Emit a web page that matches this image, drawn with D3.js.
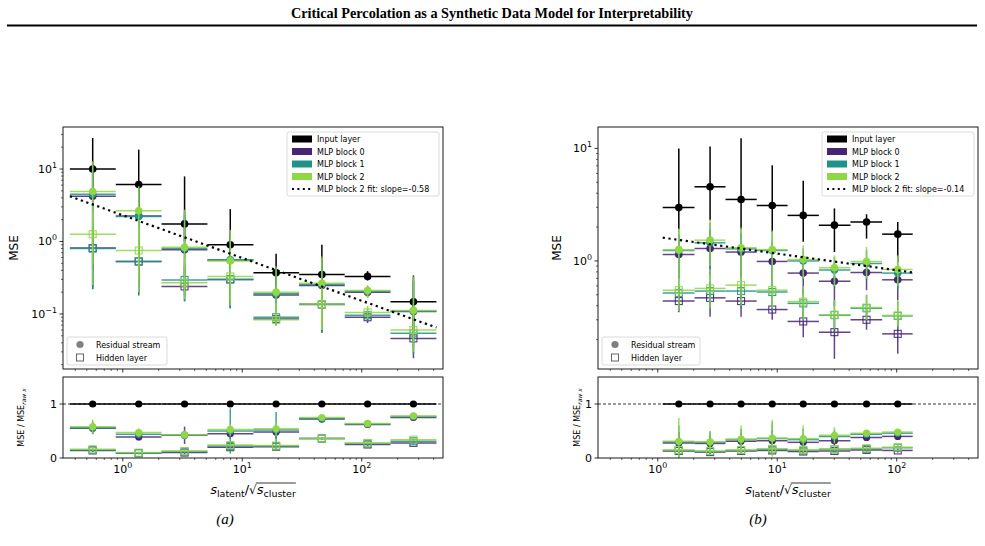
<!DOCTYPE html>
<html><head><meta charset="utf-8">
<script src="https://cdn.jsdelivr.net/npm/d3@7"></script>
<style>body{margin:0;background:#fff} svg{display:block} text{font-family:"DejaVu Sans",sans-serif}</style>
</head><body><svg id="c" width="985" height="546"></svg>
<script>
// ---------------- DATA ----------------
const title = "Critical Percolation as a Synthetic Data Model for Interpretability";
const seriesNames = ["Input layer", "MLP block 0", "MLP block 1", "MLP block 2"];
const seriesColors = ["#000000", "#482475", "#21918c", "#8fd744"];
const markerNames = ["Residual stream", "Hidden layer"];
const slopeLabels = ["-0.58", "-0.14"];
const captions = ["(a)", "(b)"];
const yTicksTopA = [0.1, 1, 10];
const yTicksTopB = [1, 10];
const yTicksRatio = [0, 1];
const xTicks = [1, 10, 100];

// Panel (a)
const xA = [0.56, 1.36, 3.29, 7.94, 19.2, 46.4, 112, 271];
const edgesA = [0.361, 0.874, 2.11, 5.11, 12.4, 29.9, 72.1, 174, 422];
const inputA = [10.0, 6.1, 1.75, 0.90, 0.37, 0.35, 0.33, 0.147];
const inputAHi = [26.8, 18.5, 7.9, 2.8, 0.68, 0.90, 0.39, 0.34];
const inputALo = [4.0, 3.0, 1.0, 0.5, 0.25, 0.2, 0.29, 0.06];
const b0ResA = [4.2, 2.25, 0.77, 0.55, 0.183, 0.247, 0.20, 0.108];
const b1ResA = [4.5, 2.22, 0.80, 0.56, 0.19, 0.255, 0.205, 0.11];
const b2ResA = [4.9, 2.66, 0.83, 0.54, 0.20, 0.265, 0.21, 0.112];
const b0ResAHi = [10, 5.2, 2.3, 1.2, 0.40, 0.55, 0.24, 0.28];
const b0ResALo = [0.4, 0.3, 0.2, 0.14, 0.08, 0.06, 0.17, 0.04];
const b1ResAHi = [11, 5.5, 2.5, 1.3, 0.42, 0.58, 0.24, 0.30];
const b1ResALo = [0.22, 0.25, 0.18, 0.12, 0.075, 0.055, 0.17, 0.035];
const b2ResAHi = [12.8, 5.8, 2.74, 1.45, 0.45, 0.62, 0.25, 0.33];
const b2ResALo = [0.5, 0.3, 0.2, 0.15, 0.08, 0.06, 0.17, 0.04];
const b0HidA = [0.81, 0.53, 0.24, 0.30, 0.085, 0.135, 0.09, 0.046];
const b1HidA = [0.80, 0.53, 0.295, 0.30, 0.09, 0.137, 0.096, 0.054];
const b2HidA = [1.26, 0.75, 0.27, 0.33, 0.083, 0.137, 0.105, 0.06];
const b0HidAHi = [1.6, 1.0, 0.45, 0.5, 0.13, 0.24, 0.11, 0.09];
const b0HidALo = [0.22, 0.18, 0.15, 0.12, 0.07, 0.055, 0.075, 0.0245];
const b1HidAHi = [1.8, 1.1, 0.5, 0.55, 0.14, 0.24, 0.12, 0.10];
const b1HidALo = [0.24, 0.19, 0.15, 0.12, 0.07, 0.058, 0.08, 0.028];
const b2HidAHi = [2.5, 1.5, 0.6, 0.6, 0.14, 0.25, 0.13, 0.12];
const b2HidALo = [0.25, 0.2, 0.16, 0.13, 0.07, 0.06, 0.085, 0.03];
const fitAX = [0.361, 422];
const fitAY = [4.2, 0.065];
const ratioInputA = [1, 1, 1, 1, 1, 1, 1, 1];
const r0ResA = [0.55, 0.39, 0.42, 0.45, 0.48, 0.72, 0.62, 0.75];
const r1ResA = [0.56, 0.44, 0.43, 0.50, 0.52, 0.73, 0.63, 0.77];
const r2ResA = [0.58, 0.47, 0.43, 0.53, 0.54, 0.75, 0.64, 0.78];
const r0ResAErr = [0.10, 0.06, 0.16, 0.10, 0.12, 0.03, 0.03, 0.03];
const r1ResAErr = [0.12, 0.07, 0.07, 0.42, 0.33, 0.03, 0.03, 0.04];
const r2ResAErr = [0.13, 0.08, 0.08, 0.12, 0.14, 0.03, 0.03, 0.04];
const r0HidA = [0.14, 0.09, 0.10, 0.20, 0.21, 0.36, 0.25, 0.28];
const r1HidA = [0.15, 0.09, 0.12, 0.22, 0.22, 0.36, 0.27, 0.31];
const r2HidA = [0.16, 0.10, 0.13, 0.24, 0.23, 0.36, 0.28, 0.34];
const rHidAErr = [0.03, 0.02, 0.03, 0.05, 0.04, 0.02, 0.03, 0.03];

// Panel (b)
const xB = [1.5, 2.74, 4.98, 9.08, 16.5, 30.1, 55.9, 102];
const edgesB = [1.10, 2.03, 3.69, 6.73, 12.2, 22.3, 41.0, 75.5, 136];
const inputB = [2.98, 4.56, 3.52, 3.11, 2.54, 2.08, 2.22, 1.73];
const inputBHi = [10.0, 10.4, 12.3, 7.1, 5.15, 2.93, 2.6, 2.22];
const inputBLo = [1.9, 2.3, 1.9, 1.8, 1.48, 1.2, 1.58, 0.98];
const b0ResB = [1.14, 1.29, 1.20, 0.99, 0.78, 0.66, 0.79, 0.68];
const b1ResB = [1.24, 1.45, 1.28, 1.24, 1.00, 0.83, 0.95, 0.78];
const b2ResB = [1.26, 1.53, 1.31, 1.26, 1.03, 0.87, 0.99, 0.84];
const b0ResBHi = [1.7, 1.9, 1.75, 1.5, 1.1, 0.95, 1.0, 0.9];
const b0ResBLo = [0.7, 0.75, 0.72, 0.6, 0.5, 0.4, 0.55, 0.45];
const b1ResBHi = [1.9, 2.2, 1.9, 1.8, 1.3, 1.08, 1.25, 1.05];
const b1ResBLo = [0.78, 0.85, 0.82, 0.78, 0.68, 0.58, 0.68, 0.56];
const b2ResBHi = [1.94, 2.33, 1.98, 1.86, 1.38, 1.12, 1.33, 1.12];
const b2ResBLo = [0.8, 0.9, 0.85, 0.8, 0.7, 0.6, 0.7, 0.6];
const b0HidB = [0.44, 0.47, 0.44, 0.37, 0.29, 0.233, 0.30, 0.225];
const b1HidB = [0.52, 0.54, 0.54, 0.53, 0.42, 0.33, 0.38, 0.325];
const b2HidB = [0.55, 0.57, 0.61, 0.55, 0.435, 0.333, 0.385, 0.328];
const b0HidBHi = [0.6, 0.65, 0.6, 0.5, 0.4, 0.33, 0.38, 0.32];
const b0HidBLo = [0.35, 0.32, 0.32, 0.3, 0.21, 0.135, 0.245, 0.15];
const b1HidBHi = [0.78, 0.8, 0.8, 0.78, 0.58, 0.44, 0.5, 0.44];
const b1HidBLo = [0.36, 0.38, 0.38, 0.36, 0.3, 0.24, 0.3, 0.25];
const b2HidBHi = [0.8, 0.85, 0.85, 0.8, 0.6, 0.45, 0.5, 0.45];
const b2HidBLo = [0.36, 0.38, 0.4, 0.38, 0.3, 0.25, 0.3, 0.26];
const fitBX = [1.10, 136];
const fitBY = [1.61, 0.79];
const ratioInputB = [1, 1, 1, 1, 1, 1, 1, 1];
const r0ResB = [0.28, 0.27, 0.31, 0.32, 0.29, 0.32, 0.38, 0.40];
const r1ResB = [0.30, 0.29, 0.34, 0.36, 0.34, 0.40, 0.44, 0.46];
const r2ResB = [0.31, 0.30, 0.35, 0.37, 0.36, 0.42, 0.46, 0.48];
const r0ResBErr = [0.20, 0.15, 0.15, 0.20, 0.15, 0.10, 0.05, 0.04];
const r1ResBErr = [0.30, 0.20, 0.20, 0.30, 0.20, 0.12, 0.06, 0.04];
const r2ResBErr = [0.43, 0.20, 0.25, 0.34, 0.24, 0.15, 0.06, 0.04];
const r0HidB = [0.13, 0.11, 0.13, 0.14, 0.12, 0.13, 0.15, 0.14];
const r1HidB = [0.14, 0.12, 0.14, 0.16, 0.14, 0.16, 0.17, 0.19];
const r2HidB = [0.15, 0.13, 0.15, 0.17, 0.15, 0.165, 0.18, 0.20];
const rHidBErr = [0.05, 0.04, 0.05, 0.05, 0.05, 0.04, 0.04, 0.04];

// axis limits
const xLim = [0.316, 479];
const yLimTopA = [0.0174, 38.0];
const yLimTopB = [0.1096, 15.5];
const yLimRatio = [0, 1.5];

// ---------------- BUILD ----------------
const panels = [
  { left: 63, x: xA, edges: edgesA, yLim: yLimTopA, yTicks: yTicksTopA,
    input: [inputA, inputALo, inputAHi],
    res: [[b0ResA, b0ResALo, b0ResAHi], [b1ResA, b1ResALo, b1ResAHi], [b2ResA, b2ResALo, b2ResAHi]],
    hid: [[b0HidA, b0HidALo, b0HidAHi], [b1HidA, b1HidALo, b1HidAHi], [b2HidA, b2HidALo, b2HidAHi]],
    fit: [fitAX, fitAY], slope: slopeLabels[0], caption: captions[0],
    rInput: ratioInputA,
    rRes: [[r0ResA, r0ResAErr], [r1ResA, r1ResAErr], [r2ResA, r2ResAErr]],
    rHid: [[r0HidA, rHidAErr], [r1HidA, rHidAErr], [r2HidA, rHidAErr]],
    mseX: 14, ratioLabX: 21, captionX: 225 },
  { left: 598, x: xB, edges: edgesB, yLim: yLimTopB, yTicks: yTicksTopB,
    input: [inputB, inputBLo, inputBHi],
    res: [[b0ResB, b0ResBLo, b0ResBHi], [b1ResB, b1ResBLo, b1ResBHi], [b2ResB, b2ResBLo, b2ResBHi]],
    hid: [[b0HidB, b0HidBLo, b0HidBHi], [b1HidB, b1HidBLo, b1HidBHi], [b2HidB, b2HidBLo, b2HidBHi]],
    fit: [fitBX, fitBY], slope: slopeLabels[1], caption: captions[1],
    rInput: ratioInputB,
    rRes: [[r0ResB, r0ResBErr], [r1ResB, r1ResBErr], [r2ResB, r2ResBErr]],
    rHid: [[r0HidB, rHidBErr], [r1HidB, rHidBErr], [r2HidB, rHidBErr]],
    mseX: 557, ratioLabX: 577, captionX: 758 }
];

const W = 380, topT = 127, topB = 369, ratT = 377, ratB = 458;
const svg = d3.select("#c");

// title + rule
svg.append("text").attr("x", 492).attr("y", 18).attr("text-anchor", "middle")
  .style("font-family", "'Liberation Serif','Times New Roman',serif").style("font-weight", "bold")
  .style("font-size", "14.5px").attr("textLength", 402).attr("lengthAdjust", "spacingAndGlyphs").text(title);
svg.append("line").attr("x1", 7).attr("x2", 977).attr("y1", 25.5).attr("y2", 25.5)
  .attr("stroke", "#000").attr("stroke-width", 1.8);

function sup(t) { return t < 0 ? "\u2212" + Math.abs(t) : String(t); }

function logTicks(g, scale, orient, len, y0, x0, labels, labelSize) {
  const ticks = scale.ticks();
  const [d0, d1] = scale.domain();
  ticks.forEach(v => {
    if (v < d0 || v > d1) return;
    const e = Math.log10(v);
    const major = Math.abs(e - Math.round(e)) < 1e-9;
    const L = major ? 3.5 : 2;
    if (orient === "x") {
      const px = scale(v);
      g.append("line").attr("x1", px).attr("x2", px).attr("y1", y0).attr("y2", y0 + L)
        .attr("stroke", "#000").attr("stroke-width", major ? 0.8 : 0.6);
    } else {
      const py = scale(v);
      g.append("line").attr("x1", x0).attr("x2", x0 - L).attr("y1", py).attr("y2", py)
        .attr("stroke", "#000").attr("stroke-width", major ? 0.8 : 0.6);
    }
  });
  if (!labels) return;
  labels.forEach(v => {
    const e = Math.round(Math.log10(v));
    let t;
    if (orient === "x") {
      t = g.append("text").attr("x", scale(v)).attr("y", y0 + 15).attr("text-anchor", "middle");
    } else {
      t = g.append("text").attr("x", x0 - 6).attr("y", scale(v) + 4).attr("text-anchor", "end");
    }
    t.style("font-size", labelSize + "px");
    t.append("tspan").text("10");
    t.append("tspan").attr("dy", -5).style("font-size", (labelSize * 0.72) + "px").text(sup(e));
  });
}

function drawErr(g, xs, edges, vals, lo, hi, color, marker, xs_, ys_, opts) {
  const lw = opts.lw || 1.5;
  const op = opts.op == null ? 0.9 : opts.op;
  const bars = g.append("g").attr("stroke", color).attr("stroke-width", lw).attr("opacity", op);
  vals.forEach((v, i) => {
    bars.append("line").attr("x1", xs_(edges[i])).attr("x2", xs_(edges[i + 1]))
      .attr("y1", ys_(v)).attr("y2", ys_(v));
    if (lo && hi) {
      bars.append("line").attr("x1", xs_(xs[i])).attr("x2", xs_(xs[i]))
        .attr("y1", ys_(lo[i])).attr("y2", ys_(hi[i]));
    }
  });
  const mk = g.append("g");
  vals.forEach((v, i) => {
    if (marker === "circle") {
      mk.append("circle").attr("cx", xs_(xs[i])).attr("cy", ys_(v)).attr("r", opts.r || 3.8)
        .attr("fill", color);
    } else {
      const s = 7;
      mk.append("rect").attr("x", xs_(xs[i]) - s / 2).attr("y", ys_(v) - s / 2)
        .attr("width", s).attr("height", s).attr("fill", "none")
        .attr("stroke", color).attr("stroke-width", 1.1).attr("opacity", 0.9);
    }
  });
}

panels.forEach((p, pi) => {
  const L = p.left, R = p.left + W;
  const xs = d3.scaleLog().domain(xLim).range([L, R]);
  const ys = d3.scaleLog().domain(p.yLim).range([topB, topT]);
  const yr = d3.scaleLinear().domain(yLimRatio).range([ratB, ratT]);
  const g = svg.append("g");

  const cidT = "clipT" + pi, cidR = "clipR" + pi;
  const defs = svg.append("defs");
  defs.append("clipPath").attr("id", cidT).append("rect").attr("x", L).attr("y", topT).attr("width", W).attr("height", topB - topT);
  defs.append("clipPath").attr("id", cidR).append("rect").attr("x", L).attr("y", ratT).attr("width", W).attr("height", ratB - ratT);

  // ---- top panel ----
  const gt = g.append("g").attr("clip-path", `url(#${cidT})`);
  drawErr(gt, p.x, p.edges, p.input[0], p.input[1], p.input[2], seriesColors[0], "circle", xs, ys, { lw: 1.5, op: 1, r: 3.8 });
  for (let b = 0; b < 3; b++) {
    const col = seriesColors[b + 1];
    drawErr(gt, p.x, p.edges, p.res[b][0], p.res[b][1], p.res[b][2], col, "circle", xs, ys, { lw: 1.5, op: 0.85, r: 3.8 });
    drawErr(gt, p.x, p.edges, p.hid[b][0], p.hid[b][1], p.hid[b][2], col, "square", xs, ys, { lw: 1.5, op: 0.85 });
  }
  const fitLine = d3.line().x(d => xs(d[0])).y(d => ys(d[1]));
  gt.append("path").datum(p.fit[0].map((v, i) => [v, p.fit[1][i]])).attr("d", fitLine)
    .attr("fill", "none").attr("stroke", "#000").attr("stroke-width", 2.2).attr("stroke-dasharray", "2.2,3.6");

  g.append("rect").attr("x", L).attr("y", topT).attr("width", W).attr("height", topB - topT)
    .attr("fill", "none").attr("stroke", "#000").attr("stroke-width", 0.9);
  logTicks(g, xs, "x", 0, topB, 0, null, 11);
  logTicks(g, ys, "y", 0, 0, L, p.yTicks, 11);
  g.append("text").attr("transform", `translate(${p.mseX + 4},${(topT + topB) / 2}) rotate(-90)`)
    .attr("text-anchor", "middle").style("font-size", "12px").text("MSE");

  // legend 1
  const lg = g.append("g");
  const lw_ = 152, lx = R - 4 - lw_, ly = topT + 5;
  lg.append("rect").attr("x", lx).attr("y", ly).attr("width", lw_).attr("height", 64).attr("rx", 2)
    .attr("fill", "#fff").attr("fill-opacity", 0.85).attr("stroke", "#d0d0d0").attr("stroke-width", 0.8);
  seriesNames.forEach((n, i) => {
    const cy = ly + 7 + i * 12.5;
    lg.append("rect").attr("x", lx + 5).attr("y", cy - 3.5).attr("width", 20).attr("height", 7).attr("fill", seriesColors[i]);
    lg.append("text").attr("x", lx + 30).attr("y", cy + 3).style("font-size", "8px").text(n);
  });
  const fy = ly + 7 + 4 * 12.5;
  lg.append("line").attr("x1", lx + 5).attr("x2", lx + 25).attr("y1", fy).attr("y2", fy)
    .attr("stroke", "#000").attr("stroke-width", 2).attr("stroke-dasharray", "2,3.4");
  lg.append("text").attr("x", lx + 30).attr("y", fy + 3).style("font-size", "8px")
    .text(seriesNames[3] + " fit: slope=" + p.slope);

  // legend 2
  const l2 = g.append("g");
  const l2x = L + 4, l2y = topB - 4 - 28;
  l2.append("rect").attr("x", l2x).attr("y", l2y).attr("width", pi === 0 ? 100 : 98).attr("height", 28).attr("rx", 2)
    .attr("fill", "#fff").attr("fill-opacity", 0.85).attr("stroke", "#d0d0d0").attr("stroke-width", 0.8);
  l2.append("circle").attr("cx", l2x + 13).attr("cy", l2y + 7.5).attr("r", 3.6).attr("fill", "#808080");
  l2.append("rect").attr("x", l2x + 9.5).attr("y", l2y + 17).attr("width", 7).attr("height", 7)
    .attr("fill", "none").attr("stroke", "#555").attr("stroke-width", 0.9);
  l2.append("text").attr("x", l2x + 29).attr("y", l2y + 10.5).style("font-size", "8px").text(markerNames[0]);
  l2.append("text").attr("x", l2x + 29).attr("y", l2y + 23.5).style("font-size", "8px").text(markerNames[1]);

  // ---- ratio panel ----
  const gr = g.append("g").attr("clip-path", `url(#${cidR})`);
  gr.append("line").attr("x1", L).attr("x2", R).attr("y1", yr(1)).attr("y2", yr(1))
    .attr("stroke", "#000").attr("stroke-width", 0.8).attr("stroke-dasharray", "3,2");
  drawErr(gr, p.x, p.edges, p.rInput, null, null, seriesColors[0], "circle", xs, yr, { lw: 1.5, op: 1, r: 3.6 });
  for (let b = 0; b < 3; b++) {
    const col = seriesColors[b + 1];
    const rv = p.rRes[b][0], re = p.rRes[b][1];
    drawErr(gr, p.x, p.edges, rv, rv.map((v, i) => v - re[i]), rv.map((v, i) => v + re[i]), col, "circle", xs, yr, { lw: 1.5, op: 0.85, r: 3.6 });
    const hv = p.rHid[b][0], he = p.rHid[b][1];
    drawErr(gr, p.x, p.edges, hv, hv.map((v, i) => v - he[i]), hv.map((v, i) => v + he[i]), col, "square", xs, yr, { lw: 1.5, op: 0.85 });
  }
  g.append("rect").attr("x", L).attr("y", ratT).attr("width", W).attr("height", ratB - ratT)
    .attr("fill", "none").attr("stroke", "#000").attr("stroke-width", 0.9);
  logTicks(g, xs, "x", 0, ratB, 0, xTicks, 11);
  yTicksRatio.forEach(v => {
    g.append("line").attr("x1", L).attr("x2", L - 3.5).attr("y1", yr(v)).attr("y2", yr(v)).attr("stroke", "#000").attr("stroke-width", 0.8);
    g.append("text").attr("x", L - 6).attr("y", yr(v) + 4).attr("text-anchor", "end").style("font-size", "11px").text(v);
  });
  const rl = g.append("text").attr("transform", `translate(${p.ratioLabX + 3},${(ratT + ratB) / 2}) rotate(-90)`)
    .attr("text-anchor", "middle").style("font-size", "8px");
  rl.append("tspan").text("MSE / MSE");
  rl.append("tspan").attr("dy", 2).style("font-size", "6px").style("font-style", "italic").text("raw x");

  // x label
  const cx = (L + R) / 2, by = 494;
  const parts = [
    { t: "s", size: 13, it: true, dy: 0, ov: false },
    { t: "latent", size: 9.5, it: false, dy: 3, ov: false },
    { t: "/", size: 13, it: false, dy: 0, ov: false },
    { t: "\u221A", size: 12, it: false, dy: 0, ov: false },
    { t: "s", size: 13, it: true, dy: 0, ov: true },
    { t: "cluster", size: 9.5, it: false, dy: 3, ov: true }
  ];
  const tmp = [];
  let total = 0;
  parts.forEach(pt => {
    const t = g.append("text").style("font-size", pt.size + "px").style("font-style", pt.it ? "italic" : "normal").text(pt.t);
    pt.w = t.node().getComputedTextLength();
    total += pt.w;
    tmp.push(t);
  });
  let cur = cx - total / 2, ovStart = null, ovEnd = null;
  parts.forEach((pt, i) => {
    tmp[i].attr("x", cur).attr("y", by + pt.dy);
    if (pt.ov) { if (ovStart === null) ovStart = cur; ovEnd = cur + pt.w; }
    cur += pt.w;
  });
  g.append("line").attr("x1", ovStart - 1).attr("x2", ovEnd).attr("y1", by - 11).attr("y2", by - 11)
    .attr("stroke", "#000").attr("stroke-width", 0.8);

  // caption
  svg.append("text").attr("x", p.captionX).attr("y", 524).attr("text-anchor", "middle")
    .style("font-family", "'Liberation Serif','Times New Roman',serif").style("font-style", "italic")
    .style("font-size", "15px").text(p.caption);
});
</script></body></html>
